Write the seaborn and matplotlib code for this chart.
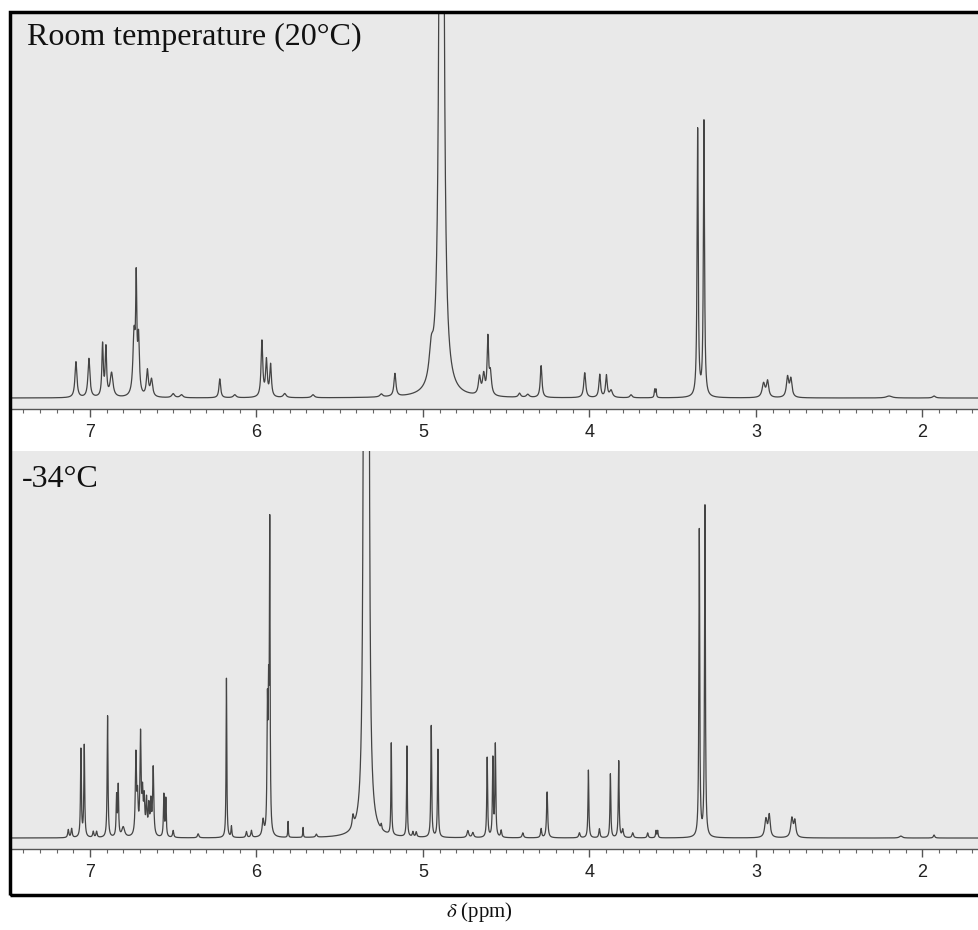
import numpy as np
import pandas as pd
import matplotlib.pyplot as plt
import matplotlib.patches as patches
from matplotlib.ticker import MultipleLocator
import seaborn as sns

# Пики спектра при комнатной температуре (20°C): сдвиг (ppm), высота, полуширина
rt_shift = [7.084, 7.006, 6.924, 6.904, 6.87, 6.735, 6.722, 6.708, 6.655, 6.63,
            6.50, 6.45, 6.22, 6.13, 5.967, 5.94, 5.915, 5.83, 5.66, 5.25,
            5.168, 4.95, 4.888, 4.66, 4.635, 4.61, 4.595, 4.42, 4.37, 4.29,
            4.028, 3.938, 3.898, 3.87, 3.75, 3.608, 3.60, 3.35, 3.312,
            2.954, 2.93, 2.81, 2.79, 2.20, 1.93]
rt_height = [36, 39, 52, 48, 24, 60, 105, 55, 26, 17,
             4, 3, 19, 3, 56, 36, 32, 4, 3, 3,
             23, 30, 3000, 18, 20, 55, 22, 4, 3, 32,
             25, 23, 22, 7, 3, 8, 8, 268, 276,
             14, 16, 20, 18, 2, 2]
rt_width = [0.007, 0.007, 0.005, 0.005, 0.01, 0.008, 0.004, 0.006, 0.007, 0.008,
            0.01, 0.01, 0.006, 0.01, 0.006, 0.006, 0.006, 0.01, 0.01, 0.01,
            0.007, 0.015, 0.0065, 0.008, 0.008, 0.005, 0.008, 0.008, 0.01, 0.006,
            0.007, 0.006, 0.006, 0.01, 0.008, 0.003, 0.003, 0.004, 0.004,
            0.01, 0.008, 0.008, 0.008, 0.02, 0.01]

# Пики спектра при -34°C
lt_shift = [7.13, 7.11, 7.054, 7.034, 6.98, 6.96, 6.894, 6.84, 6.83, 6.80,
            6.724, 6.714, 6.696, 6.684, 6.674, 6.66, 6.646, 6.634, 6.62,
            6.556, 6.544, 6.50, 6.35, 6.18, 6.15, 6.06, 6.03, 5.96,
            5.934, 5.927, 5.92, 5.81, 5.72, 5.64, 5.42, 5.35, 5.33, 5.25,
            5.19, 5.096, 5.06, 5.04, 4.95, 4.91, 4.73, 4.70,
            4.614, 4.58, 4.565, 4.53, 4.40, 4.29, 4.254, 4.06, 4.006,
            3.94, 3.874, 3.824, 3.80, 3.74, 3.65, 3.60, 3.59, 3.34, 3.306,
            2.94, 2.92, 2.784, 2.766, 2.13, 1.93]
lt_height = [8, 9, 88, 92, 6, 6, 122, 40, 50, 10,
             80, 35, 100, 38, 34, 34, 28, 32, 68,
             42, 38, 7, 4, 160, 11, 6, 7, 16,
             120, 120, 300, 16, 10, 3, 12, 1500, 1500, 5,
             92, 91, 5, 5, 112, 88, 7, 5,
             80, 78, 92, 7, 5, 9, 46, 5, 68,
             9, 64, 77, 8, 5, 5, 7, 7, 308, 332,
             18, 22, 19, 16, 2, 3]
lt_width = [0.004, 0.004, 0.003, 0.003, 0.004, 0.004, 0.003, 0.003, 0.003, 0.01,
            0.004, 0.004, 0.004, 0.004, 0.004, 0.004, 0.004, 0.004, 0.004,
            0.003, 0.003, 0.004, 0.005, 0.0025, 0.003, 0.004, 0.004, 0.006,
            0.003, 0.003, 0.0025, 0.002, 0.002, 0.005, 0.006, 0.005, 0.005, 0.003,
            0.0025, 0.0025, 0.004, 0.004, 0.003, 0.003, 0.006, 0.006,
            0.003, 0.003, 0.003, 0.004, 0.005, 0.004, 0.004, 0.005, 0.003,
            0.004, 0.003, 0.003, 0.005, 0.005, 0.004, 0.003, 0.003, 0.003, 0.003,
            0.008, 0.007, 0.008, 0.007, 0.01, 0.005]

panel_labels = ['Room temperature (20°C)', '-34°C']

# Настройка стиля
sns.set_style('white', {'axes.facecolor': '#e9e9e9'})
plt.rcParams['font.family'] = ['Liberation Sans', 'DejaVu Sans']
plt.rcParams['mathtext.fontset'] = 'stix'

ppm = np.linspace(7.5, 1.6, 24000)


def build_spectrum(shift, height, width):
    y = np.zeros_like(ppm)
    for s, h, w in zip(shift, height, width):
        y += h * w**2 / ((ppm - s)**2 + w**2)
    return pd.DataFrame({'ppm': ppm, 'intensity': y})


fig = plt.figure(figsize=(9.79, 9.30), dpi=100)
ax1 = fig.add_axes([12 / 979, (930 - 409) / 930, 1 - 12 / 979, 396 / 930])
ax2 = fig.add_axes([12 / 979, (930 - 849) / 930, 1 - 12 / 979, 398 / 930])

data = [build_spectrum(rt_shift, rt_height, rt_width),
        build_spectrum(lt_shift, lt_height, lt_width)]

for ax, df, top in zip([ax1, ax2], data, [386, 388]):
    sns.lineplot(data=df, x='ppm', y='intensity', ax=ax, color='#444444',
                 linewidth=0.9, estimator=None, sort=False)
    ax.set_xlim(7.468, 1.66)
    ax.set_ylim(-11, top)
    ax.set_yticks([])
    ax.set_xlabel('')
    ax.set_ylabel('')
    for side in ['top', 'left', 'right']:
        ax.spines[side].set_visible(False)
    ax.spines['bottom'].set_color('#555555')
    ax.spines['bottom'].set_linewidth(1.0)
    ax.xaxis.set_major_locator(MultipleLocator(1))
    ax.xaxis.set_minor_locator(MultipleLocator(0.1))
    ax.tick_params(axis='x', which='major', bottom=True, length=6, width=1,
                   color='#555555', labelsize=13, labelcolor='#222222', pad=5)
    ax.tick_params(axis='x', which='minor', bottom=True, length=3, width=0.8,
                   color='#666666')

# Подписи панелей
fig.text(27 / 979, (930 - 45) / 930, panel_labels[0], family='Liberation Serif',
         fontsize=23, va='baseline', color='#111111')
fig.text(22 / 979, (930 - 487) / 930, panel_labels[1], family='Liberation Serif',
         fontsize=23, va='baseline', color='#111111')

# Подпись оси
fig.text(479 / 979, (930 - 917) / 930, r'$\delta$ (ppm)', family='Liberation Serif',
         fontsize=15, ha='center', va='baseline', color='#111111')

# Рамка вокруг двух панелей
frame = patches.Rectangle((9.5 / 979, (930 - 895) / 930), 1.05, (895 - 12) / 930,
                          fill=False, edgecolor='black', linewidth=2.5,
                          transform=fig.transFigure, clip_on=False)
fig.add_artist(frame)

fig.savefig('out.png', dpi=100)
